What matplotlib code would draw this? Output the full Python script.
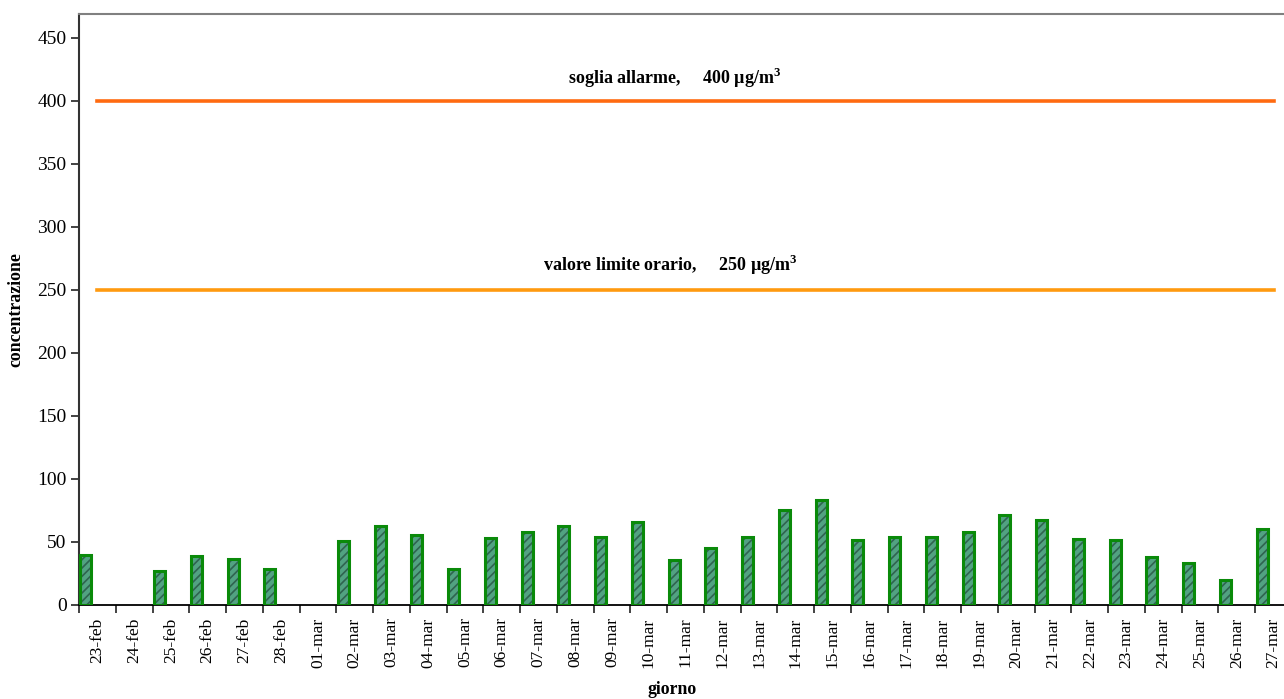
# Import matplotlib module
import matplotlib.pyplot as plt
# Import numpy module
import numpy as np

# Days on the x axis
giorni = ['23-feb', '24-feb', '25-feb', '26-feb', '27-feb', '28-feb',
          '01-mar', '02-mar', '03-mar', '04-mar', '05-mar', '06-mar',
          '07-mar', '08-mar', '09-mar', '10-mar', '11-mar', '12-mar',
          '13-mar', '14-mar', '15-mar', '16-mar', '17-mar', '18-mar',
          '19-mar', '20-mar', '21-mar', '22-mar', '23-mar', '24-mar',
          '25-mar', '26-mar', '27-mar']

# Daily concentration values (0 = missing day)
concentrazione = [40, 0, 27, 39, 36.5, 28.5,
                  0, 51, 63, 55.5, 28.5, 53,
                  58, 63, 54, 66, 36, 45,
                  54, 75, 83, 51.5, 54, 54,
                  58, 71.5, 67.5, 52, 51.5, 38,
                  33, 19.5, 60]

# Threshold values
soglia_allarme = 400
valore_limite = 250

# Set fonts on graph
plt.rc('font', family='Liberation Serif')
plt.rcParams['mathtext.fontset'] = 'custom'
plt.rcParams['mathtext.rm'] = 'Liberation Serif'
plt.rcParams['mathtext.bf'] = 'Liberation Serif:bold'
plt.rcParams['hatch.linewidth'] = 1.2

# Create the figure and place the axes (right side runs past the edge)
fig = plt.figure(figsize=(12.84, 6.99), dpi=100)
ax = fig.add_axes([79 / 1284, 0.1345, 1213 / 1284, 0.8455])

x = np.arange(len(giorni))

# Hatched fill of the bars, offset to the left of each category
ax.bar(x - 0.31, concentrazione, width=0.30, color='#52a282',
       edgecolor='#2f6450', hatch='////', linewidth=0, zorder=2)
# Green outline of the bars
bars = [v if v > 0 else np.nan for v in concentrazione]
ax.bar(x - 0.31, bars, width=0.30, fill=False,
       edgecolor='#0a8a0a', linewidth=2.2, zorder=3)

# Threshold lines from first to last day
ax.plot([x[0], x[-1]], [soglia_allarme] * 2, color='#ff6a10',
        linewidth=2.6, zorder=2)
ax.plot([x[0], x[-1]], [valore_limite] * 2, color='#ff9a10',
        linewidth=2.6, zorder=2)

# Labels of the threshold lines
ax.text(15.7, 409, 'soglia allarme,     400 µg/m$^{\\mathbf{3}}$',
        ha='center', va='bottom', fontsize=13, fontweight='bold')
ax.text(15.6, 260, 'valore limite orario,     250 µg/m$^{\\mathbf{3}}$',
        ha='center', va='bottom', fontsize=13, fontweight='bold')

# Axis ranges
ax.set_xlim(-0.5, len(giorni) - 0.5)
ax.set_ylim(0, 469)

# Y ticks every 50
ax.set_yticks(np.arange(0, 451, 50))
ax.tick_params(axis='y', labelsize=14, length=6, width=1.2,
               color='#222222', pad=3)

# Ticks at category boundaries, labels at category centres
ax.set_xticks(np.arange(len(giorni) + 1) - 0.5)
ax.set_xticklabels([])
ax.set_xticks(x, minor=True)
ax.set_xticklabels(giorni, minor=True, rotation=90, fontsize=12.5)
ax.tick_params(axis='x', which='major', length=6, width=1.2,
               color='#222222')
ax.tick_params(axis='x', which='minor', length=0, pad=9)

# Axis labels
ax.set_xlabel('giorno', fontsize=12.8, fontweight='bold')
ax.xaxis.set_label_coords(0.489, -0.128)
ax.set_ylabel('concentrazione', fontsize=12.8, fontweight='bold')
ax.yaxis.set_label_coords(-0.045, 0.5)

# Frame styling
ax.spines['right'].set_visible(False)
ax.spines['left'].set_color('#333333')
ax.spines['left'].set_linewidth(1.5)
ax.spines['top'].set_color('#808080')
ax.spines['top'].set_linewidth(1.5)
ax.spines['bottom'].set_color('black')
ax.spines['bottom'].set_linewidth(1.3)

# Save the visualization
plt.savefig('out.png', dpi=100)
